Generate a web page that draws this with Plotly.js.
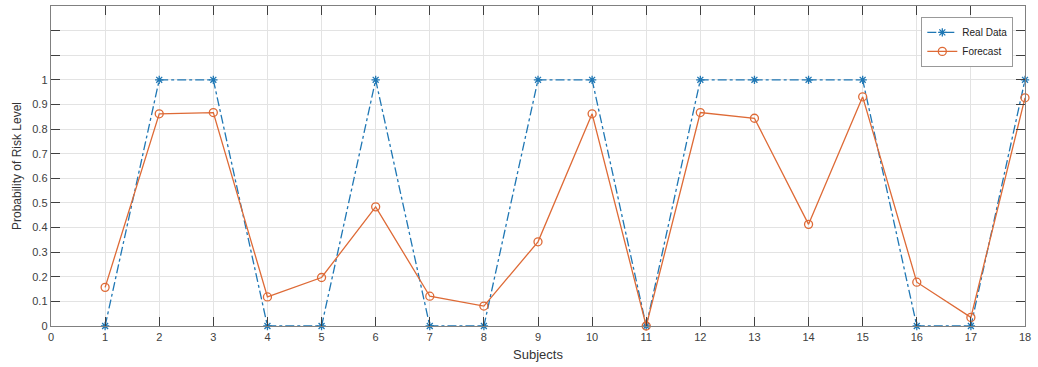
<!DOCTYPE html>
<html>
<head>
<meta charset="utf-8">
<script src="https://cdn.plot.ly/plotly-3.0.1.min.js"></script>
<style>
html,body{margin:0;padding:0;background:#fff;}
#chart{width:1038px;height:367px;}
</style>
</head>
<body>
<div id="chart"></div>
<script>
const subjects = [1,2,3,4,5,6,7,8,9,10,11,12,13,14,15,16,17,18];
const realData = [0,1,1,0,0,1,0,0,1,1,0,1,1,1,1,0,0,1];
const forecast = [0.157,0.862,0.867,0.118,0.197,0.484,0.121,0.081,0.342,0.862,0.0,0.867,0.844,0.413,0.931,0.178,0.035,0.927];
const xTickVals = [0,1,2,3,4,5,6,7,8,9,10,11,12,13,14,15,16,17,18];
const yTickVals = [0,0.1,0.2,0.3,0.4,0.5,0.6,0.7,0.8,0.9,1,1.1,1.2];
const yTickText = ["0","0.1","0.2","0.3","0.4","0.5","0.6","0.7","0.8","0.9","1","",""];

const FONT = 'Liberation Sans, Arial, Helvetica, sans-serif';
const traces = [
  {
    x: subjects, y: realData, name: 'Real Data', type: 'scatter', mode: 'lines+markers',
    line: {color: '#1f77b4', width: 1.3, dash: 'dashdot'},
    marker: {symbol: 'asterisk-open', size: 7, color: '#1f77b4', line: {color: '#1f77b4', width: 1.3}},
    cliponaxis: false
  },
  {
    x: subjects, y: forecast, name: 'Forecast', type: 'scatter', mode: 'lines+markers',
    line: {color: '#de6a36', width: 1.3},
    marker: {symbol: 'circle-open', size: 8, color: '#de6a36', line: {color: '#de6a36', width: 1.3}},
    cliponaxis: false
  }
];

const axisCommon = {
  showline: true, linecolor: '#808080', linewidth: 1.3, mirror: 'allticks',
  ticks: 'inside', ticklen: 9, tickcolor: '#404040', tickwidth: 1,
  showgrid: true, gridcolor: '#e3e3e3', gridwidth: 1,
  zeroline: false,
  tickfont: {family: FONT, size: 11, color: '#404040'}
};

const layout = {
  width: 1038, height: 367,
  margin: {l: 51, r: 13, t: 6, b: 41},
  paper_bgcolor: '#fff', plot_bgcolor: '#fff',
  showlegend: true,
  legend: {
    x: 0.988, xanchor: 'right', y: 0.966, yanchor: 'top',
    bgcolor: '#fff', bordercolor: '#999', borderwidth: 1,
    font: {family: FONT, size: 10, color: '#222'},
    tracegroupgap: 0, itemwidth: 30
  },
  xaxis: Object.assign({}, axisCommon, {
    range: [0, 18], tickvals: xTickVals, ticktext: xTickVals.map(String),
    title: {text: 'Subjects', font: {family: FONT, size: 13, color: '#333'}, standoff: 8}
  }),
  yaxis: Object.assign({}, axisCommon, {
    range: [0, 1.3], tickvals: yTickVals, ticktext: yTickText,
    title: {text: 'Probability of Risk Level', font: {family: FONT, size: 12, color: '#333'}, standoff: 8}
  })
};

Plotly.newPlot('chart', traces, layout, {displayModeBar: false, staticPlot: true});
</script>
</body>
</html>
